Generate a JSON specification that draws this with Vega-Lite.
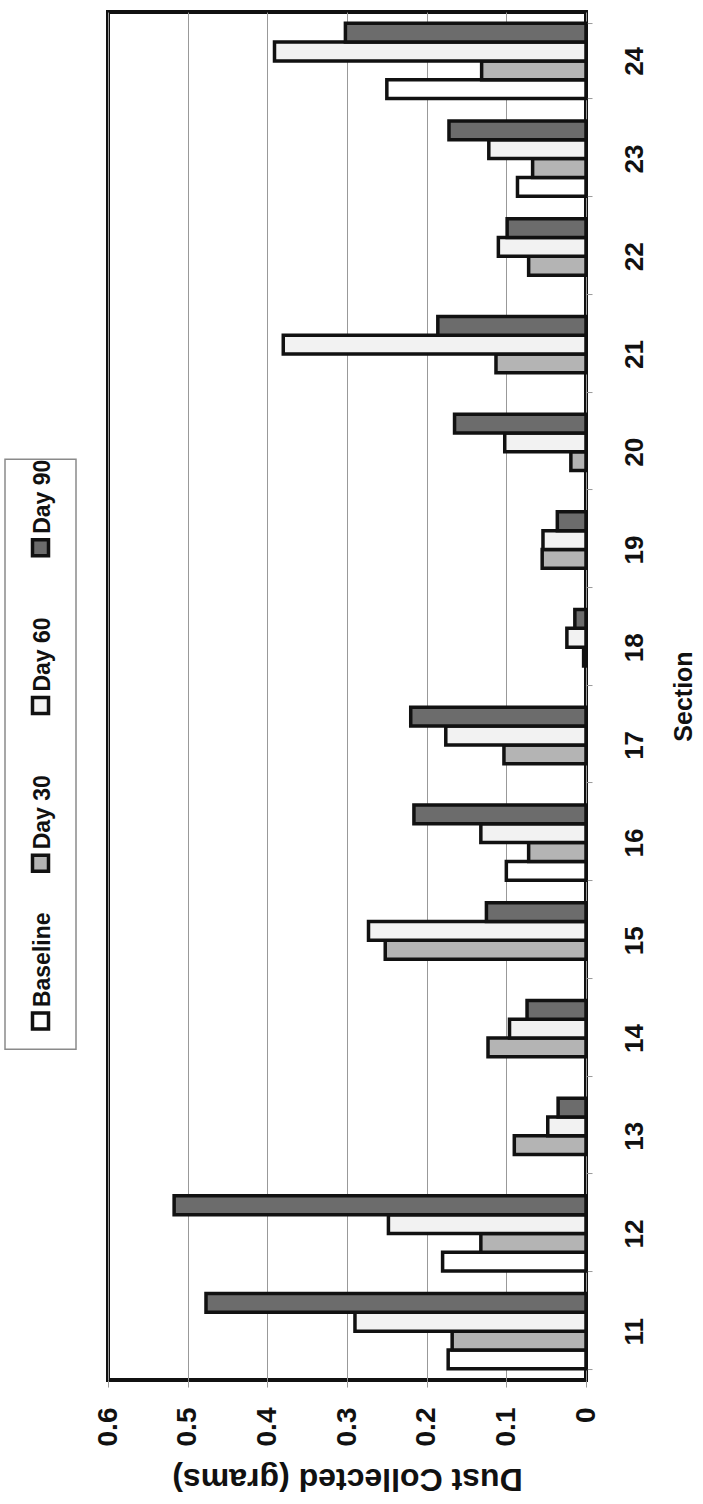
{
  "$schema": "https://vega.github.io/schema/vega-lite/v6.json",
  "background": "white",
  "padding": {"left": 4, "top": 10, "right": 0, "bottom": 0},
  "spacing": 15,
  "center": true,
  "config": {
    "font": "Liberation Sans",
    "view": {"stroke": null}
  },
  "datasets": {
    "dust": [
      {"section": 11, "series": "Baseline", "value": 0.173},
      {"section": 11, "series": "Day 30", "value": 0.168},
      {"section": 11, "series": "Day 60", "value": 0.290},
      {"section": 11, "series": "Day 90", "value": 0.477},
      {"section": 12, "series": "Baseline", "value": 0.180},
      {"section": 12, "series": "Day 30", "value": 0.132},
      {"section": 12, "series": "Day 60", "value": 0.248},
      {"section": 12, "series": "Day 90", "value": 0.517},
      {"section": 13, "series": "Day 30", "value": 0.090},
      {"section": 13, "series": "Day 60", "value": 0.048},
      {"section": 13, "series": "Day 90", "value": 0.035},
      {"section": 14, "series": "Day 30", "value": 0.123},
      {"section": 14, "series": "Day 60", "value": 0.096},
      {"section": 14, "series": "Day 90", "value": 0.074},
      {"section": 15, "series": "Day 30", "value": 0.252},
      {"section": 15, "series": "Day 60", "value": 0.273},
      {"section": 15, "series": "Day 90", "value": 0.125},
      {"section": 16, "series": "Baseline", "value": 0.100},
      {"section": 16, "series": "Day 30", "value": 0.072},
      {"section": 16, "series": "Day 60", "value": 0.132},
      {"section": 16, "series": "Day 90", "value": 0.216},
      {"section": 17, "series": "Day 30", "value": 0.103},
      {"section": 17, "series": "Day 60", "value": 0.176},
      {"section": 17, "series": "Day 90", "value": 0.220},
      {"section": 18, "series": "Day 30", "value": 0.003},
      {"section": 18, "series": "Day 60", "value": 0.024},
      {"section": 18, "series": "Day 90", "value": 0.014},
      {"section": 19, "series": "Day 30", "value": 0.055},
      {"section": 19, "series": "Day 60", "value": 0.054},
      {"section": 19, "series": "Day 90", "value": 0.036},
      {"section": 20, "series": "Day 30", "value": 0.019},
      {"section": 20, "series": "Day 60", "value": 0.102},
      {"section": 20, "series": "Day 90", "value": 0.165},
      {"section": 21, "series": "Day 30", "value": 0.113},
      {"section": 21, "series": "Day 60", "value": 0.380},
      {"section": 21, "series": "Day 90", "value": 0.186},
      {"section": 22, "series": "Day 30", "value": 0.072},
      {"section": 22, "series": "Day 60", "value": 0.110},
      {"section": 22, "series": "Day 90", "value": 0.099},
      {"section": 23, "series": "Baseline", "value": 0.086},
      {"section": 23, "series": "Day 30", "value": 0.067},
      {"section": 23, "series": "Day 60", "value": 0.122},
      {"section": 23, "series": "Day 90", "value": 0.172},
      {"section": 24, "series": "Baseline", "value": 0.250},
      {"section": 24, "series": "Day 30", "value": 0.131},
      {"section": 24, "series": "Day 60", "value": 0.391},
      {"section": 24, "series": "Day 90", "value": 0.302}
    ],
    "legend": [
      {"series": "Baseline"},
      {"series": "Day 30"},
      {"series": "Day 60"},
      {"series": "Day 90"}
    ]
  },
  "hconcat": [
    {
      "width": 71,
      "height": 590,
      "view": {"stroke": "#8a8a8a", "strokeWidth": 1.5},
      "data": {"name": "legend"},
      "encoding": {
        "y": {
          "field": "series",
          "type": "nominal",
          "scale": {"type": "point", "domain": ["Day 90", "Day 60", "Day 30", "Baseline"], "padding": 0.37, "align": 0.76},
          "axis": null
        }
      },
      "layer": [
        {
          "mark": {"type": "point", "shape": "square", "filled": true, "size": 256, "stroke": "#111", "strokeWidth": 3.5, "opacity": 1},
          "encoding": {
            "fill": {
              "field": "series",
              "type": "nominal",
              "scale": {"domain": ["Baseline", "Day 30", "Day 60", "Day 90"], "range": ["#ffffff", "#b4b4b4", "#f2f2f2", "#6c6c6c"]},
              "legend": null
            }
          }
        },
        {
          "mark": {"type": "text", "angle": 270, "align": "left", "baseline": "middle", "dx": 14, "dy": 2, "fontSize": 23, "fontWeight": "bold", "color": "#111"},
          "encoding": {"text": {"field": "series"}}
        }
      ]
    },
    {
      "width": 478,
      "height": 1368,
      "view": {"stroke": "#111", "strokeWidth": 4},
      "data": {"name": "dust"},
      "mark": {"type": "bar", "stroke": "#111", "strokeWidth": 3.5},
      "encoding": {
        "y": {
          "field": "section",
          "type": "ordinal",
          "sort": "descending",
          "scale": {"paddingInner": 0.23, "paddingOuter": 0.115},
          "axis": {
            "orient": "right",
            "title": "Section",
            "titleAngle": 270,
            "titleBaseline": "top",
            "titleFontSize": 25,
            "titleFontWeight": "bold",
            "titleColor": "#111",
            "titlePadding": 24,
            "labelAngle": 270,
            "labelAlign": "center",
            "labelBaseline": "top",
            "labelFontSize": 26,
            "labelFontWeight": "bold",
            "labelColor": "#111",
            "labelPadding": 29,
            "tickBand": "extent",
            "tickSize": 6,
            "tickColor": "#999",
            "domain": false,
            "grid": false
          }
        },
        "yOffset": {
          "field": "series",
          "type": "nominal",
          "sort": ["Day 90", "Day 60", "Day 30", "Baseline"],
          "scale": {"domain": ["Day 90", "Day 60", "Day 30", "Baseline"], "paddingInner": 0, "paddingOuter": 0}
        },
        "x": {
          "field": "value",
          "type": "quantitative",
          "scale": {"domain": [0, 0.6], "reverse": true, "nice": false, "zero": true},
          "axis": {
            "orient": "bottom",
            "values": [0, 0.1, 0.2, 0.3, 0.4, 0.5, 0.6],
            "format": "~g",
            "title": "Dust Collected (grams)",
            "titleAngle": 180,
            "titleBaseline": "bottom",
            "titleFontSize": 32,
            "titleFontWeight": "bold",
            "titleColor": "#111",
            "titlePadding": 16,
            "labelAngle": 270,
            "labelFontSize": 28,
            "labelFontWeight": "bold",
            "labelColor": "#111",
            "labelPadding": 20,
            "tickSize": 7,
            "tickColor": "#999",
            "domain": false,
            "grid": true,
            "gridColor": "#999",
            "gridWidth": 1
          }
        },
        "fill": {
          "field": "series",
          "type": "nominal",
          "scale": {"domain": ["Baseline", "Day 30", "Day 60", "Day 90"], "range": ["#ffffff", "#b4b4b4", "#f2f2f2", "#6c6c6c"]},
          "legend": null
        }
      }
    }
  ]
}
